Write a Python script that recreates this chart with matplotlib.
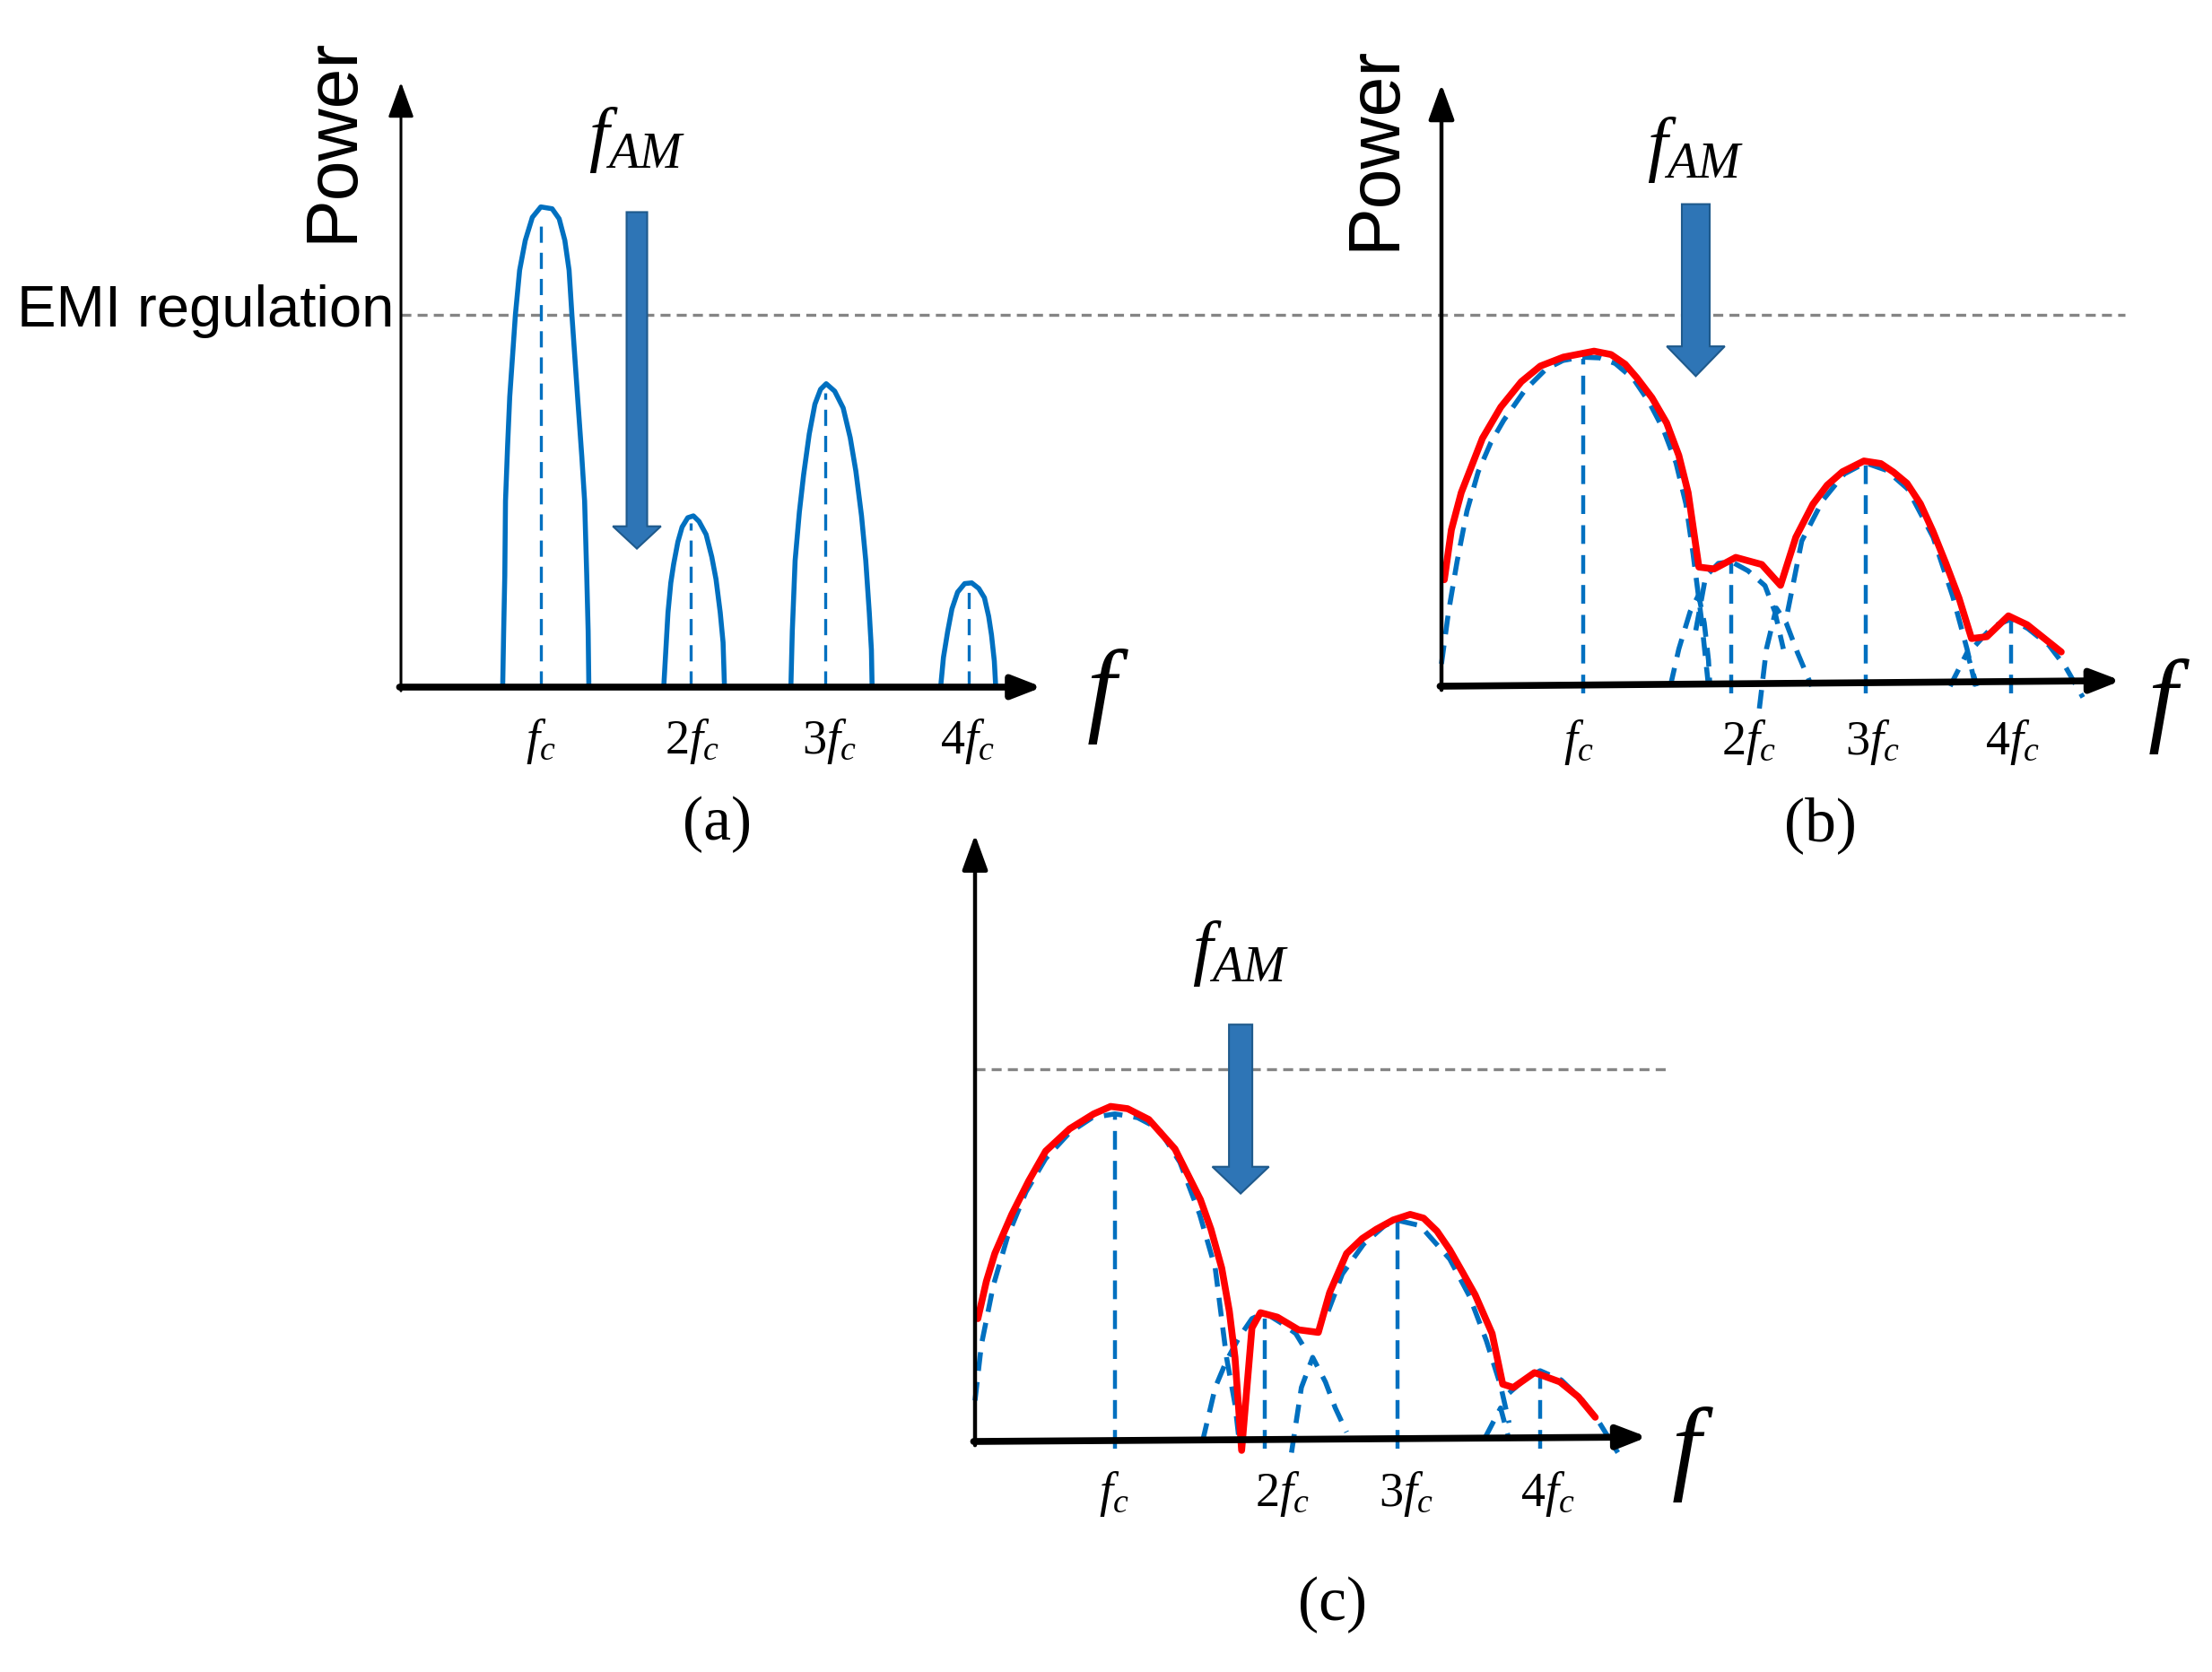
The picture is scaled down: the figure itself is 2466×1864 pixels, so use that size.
import matplotlib
matplotlib.use("Agg")
import matplotlib.pyplot as plt
from matplotlib.patches import FancyArrow

# ---- data (x in units of fc, y in units of the EMI limit) ----
HARM_LABELS = [r"$f_c$", r"$2f_c$", r"$3f_c$", r"$4f_c$"]

# (a) unmodulated spectrum, one lobe per harmonic
A_LOBE1_X = [0.72, 0.727, 0.735, 0.74, 0.755, 0.77, 0.81, 0.84, 0.88, 0.93, 0.99, 1.07, 1.12,
             1.16, 1.19, 1.21, 1.25, 1.28, 1.30, 1.315, 1.325, 1.33]
A_LOBE1_Y = [0.0, 0.15, 0.30, 0.50, 0.65, 0.78, 1.0, 1.12, 1.20, 1.262, 1.29, 1.285, 1.258,
             1.20, 1.12, 1.0, 0.78, 0.62, 0.50, 0.30, 0.15, 0.0]
A_LOBE2_X = [1.86, 1.875, 1.89, 1.91, 1.93, 1.96, 1.99, 2.03, 2.07, 2.11, 2.16, 2.20, 2.23,
             2.26, 2.28, 2.29]
A_LOBE2_Y = [0.0, 0.10, 0.20, 0.28, 0.33, 0.39, 0.43, 0.455, 0.46, 0.445, 0.41, 0.35, 0.29,
             0.20, 0.12, 0.0]
A_LOBE3_X = [2.76, 2.77, 2.79, 2.82, 2.85, 2.89, 2.93, 2.97, 3.01, 3.07, 3.13, 3.18, 3.22,
             3.26, 3.29, 3.315, 3.33, 3.335]
A_LOBE3_Y = [0.0, 0.15, 0.34, 0.47, 0.57, 0.68, 0.76, 0.80, 0.815, 0.795, 0.75, 0.67, 0.58,
             0.46, 0.34, 0.20, 0.10, 0.0]
A_LOBE4_X = [3.82, 3.84, 3.87, 3.90, 3.94, 3.99, 4.04, 4.09, 4.13, 4.16, 4.18, 4.20, 4.21]
A_LOBE4_Y = [0.0, 0.08, 0.15, 0.21, 0.255, 0.278, 0.28, 0.265, 0.24, 0.19, 0.14, 0.07, 0.0]
A_CENTER_X = [0.99, 2.05, 3.00, 4.02]
A_CENTER_TOP = [1.26, 0.44, 0.79, 0.26]

# (b) AM spread spectrum
B_RED_X = [0.02, 0.07, 0.14, 0.29, 0.42, 0.565, 0.70, 0.863, 1.08, 1.20, 1.30, 1.384, 1.49,
           1.594, 1.68, 1.746, 1.822, 1.93, 2.083, 2.267, 2.40, 2.508, 2.629, 2.73, 2.838,
           2.99, 3.11, 3.20, 3.295, 3.39, 3.479, 3.57, 3.663, 3.752, 3.86, 4.013, 4.146, 4.387]
B_RED_Y = [0.286, 0.42, 0.52, 0.666, 0.75, 0.818, 0.86, 0.884, 0.90, 0.891, 0.865, 0.828, 0.775,
           0.707, 0.62, 0.52, 0.32, 0.315, 0.346, 0.327, 0.271, 0.40, 0.489, 0.54, 0.576,
           0.605, 0.598, 0.575, 0.545, 0.49, 0.416, 0.33, 0.237, 0.128, 0.133, 0.189, 0.165, 0.092]
B_DASH1_X = [0.0, 0.05, 0.11, 0.18, 0.26, 0.35, 0.44, 0.59, 0.74, 0.86, 0.99, 1.12, 1.23,
             1.36, 1.47, 1.57, 1.66, 1.73, 1.78, 1.84, 1.89]
B_DASH1_Y = [0.06, 0.20, 0.334, 0.47, 0.576, 0.655, 0.714, 0.795, 0.852, 0.875, 0.884, 0.882,
             0.867, 0.825, 0.763, 0.69, 0.60, 0.49, 0.358, 0.18, 0.0]
B_DASH2_X = [1.62, 1.68, 1.76, 1.82, 1.86, 1.89, 1.90]
B_DASH2_Y = [0.0, 0.10, 0.20, 0.245, 0.17, 0.07, 0.0]
B_DASH3_X = [1.80, 1.87, 1.96, 2.05, 2.17, 2.29, 2.36, 2.42]
B_DASH3_Y = [0.15, 0.295, 0.33, 0.335, 0.31, 0.27, 0.20, 0.10]
B_DASH4_X = [2.25, 2.30, 2.37, 2.44, 2.52, 2.62]
B_DASH4_Y = [-0.06, 0.10, 0.21, 0.17, 0.09, 0.0]
B_DASH5_X = [2.45, 2.55, 2.70, 2.85, 3.00, 3.15, 3.30, 3.48, 3.62, 3.72, 3.78]
B_DASH5_Y = [0.20, 0.39, 0.50, 0.57, 0.60, 0.58, 0.53, 0.40, 0.24, 0.10, 0.0]
B_DASH6_X = [3.60, 3.72, 3.79]
B_DASH6_Y = [0.0, 0.09, 0.0]
B_DASH7_X = [3.78, 3.90, 4.03, 4.15, 4.30, 4.42, 4.54]
B_DASH7_Y = [0.11, 0.16, 0.18, 0.155, 0.11, 0.05, -0.03]
B_CENTER_X = [1.00, 2.05, 3.00, 4.03]
B_CENTER_TOP = [0.88, 0.33, 0.60, 0.18]

# (c) AM spread spectrum with deeper notch
C_RED_X = [0.02, 0.08, 0.14, 0.26, 0.38, 0.50, 0.67, 0.84, 0.96, 1.08, 1.23, 1.415, 1.595,
           1.67, 1.746, 1.80, 1.84, 1.887, 1.96, 2.02, 2.14, 2.29, 2.43, 2.51, 2.63, 2.74,
           2.84, 2.96, 3.08, 3.175, 3.27, 3.36, 3.45, 3.54, 3.66, 3.735, 3.81, 3.96, 4.14,
           4.27, 4.39]
C_RED_Y = [0.33, 0.43, 0.505, 0.61, 0.70, 0.78, 0.84, 0.88, 0.90, 0.894, 0.865, 0.786, 0.65,
           0.57, 0.466, 0.35, 0.226, -0.024, 0.305, 0.346, 0.334, 0.30, 0.293, 0.40, 0.505, 0.545,
           0.57, 0.595, 0.61, 0.60, 0.565, 0.515, 0.455, 0.394, 0.29, 0.154, 0.145, 0.185, 0.16,
           0.12, 0.065]
C_DASH1_X = [0.0, 0.045, 0.13, 0.23, 0.36, 0.50, 0.67, 0.83, 0.99, 1.15, 1.30, 1.45, 1.59,
             1.70, 1.78, 1.84, 1.87]
C_DASH1_Y = [0.11, 0.26, 0.42, 0.55, 0.67, 0.76, 0.83, 0.87, 0.88, 0.87, 0.84, 0.75, 0.61,
             0.466, 0.226, 0.10, 0.0]
C_DASH2_X = [1.61, 1.66, 1.70, 1.78, 1.87, 1.96, 2.05, 2.16, 2.27, 2.35]
C_DASH2_Y = [0.0, 0.08, 0.145, 0.217, 0.28, 0.33, 0.346, 0.32, 0.29, 0.24]
C_DASH3_X = [2.24, 2.31, 2.39, 2.48, 2.55, 2.63]
C_DASH3_Y = [-0.03, 0.145, 0.226, 0.16, 0.09, 0.025]
C_DASH4_X = [2.50, 2.60, 2.75, 2.90, 2.99, 3.15, 3.36, 3.50, 3.62, 3.72, 3.78]
C_DASH4_Y = [0.35, 0.45, 0.53, 0.58, 0.594, 0.58, 0.49, 0.39, 0.27, 0.15, 0.05]
C_DASH5_X = [3.61, 3.72, 3.78]
C_DASH5_Y = [0.01, 0.09, 0.005]
C_DASH6_X = [3.78, 3.90, 4.00, 4.15, 4.30, 4.42, 4.55]
C_DASH6_Y = [0.13, 0.17, 0.19, 0.165, 0.11, 0.05, -0.03]
C_CENTER_X = [0.99, 2.05, 2.99, 4.00]
C_CENTER_TOP = [0.88, 0.33, 0.59, 0.17]

EMI_LEVEL = 1.0

# ---- style ----
plt.rcParams["mathtext.fontset"] = "custom"
plt.rcParams["mathtext.rm"] = "Liberation Serif"
plt.rcParams["mathtext.it"] = "Liberation Serif:italic"
plt.rcParams["lines.scale_dashes"] = False

BLUE = "#0070C0"
RED = "#FF0000"
ARROW_FILL = "#2E75B6"
ARROW_EDGE = "#1F5A8C"
GREY = "#858585"

W, H = 2466, 1864
XS, YS = 157.5, 415.0
XLIM = (-0.7, 5.4)
YLIM = (-0.55, 1.75)


def panel_axes(fig, ox, oy):
    # place an axes so that data (0, 0) lands on pixel (ox, oy)
    left = (ox + XLIM[0] * XS) / W
    bottom = (H - oy + YLIM[0] * YS) / H
    ax = fig.add_axes([left, bottom, (XLIM[1] - XLIM[0]) * XS / W, (YLIM[1] - YLIM[0]) * YS / H])
    ax.set_xlim(*XLIM)
    ax.set_ylim(*YLIM)
    ax.axis("off")
    return ax


def draw_frame(ax, xtip, ytip, x_end_y, ylw, xlw):
    ax.annotate("", xy=(0, ytip), xytext=(0, -0.01),
                arrowprops=dict(arrowstyle="-|>,head_length=1.1,head_width=0.4", mutation_scale=22,
                                lw=ylw, color="black", shrinkA=0, shrinkB=0), zorder=6)
    ax.annotate("", xy=(xtip, x_end_y), xytext=(-0.01, 0),
                arrowprops=dict(arrowstyle="-|>,head_length=0.9,head_width=0.35", mutation_scale=22,
                                lw=xlw, color="black", shrinkA=0, shrinkB=0), zorder=6)


def draw_fam(ax, x, top, tip, width, head_w, head_l, text_y):
    ax.add_patch(FancyArrow(x, top, 0, tip - top, width=width, head_width=head_w,
                            head_length=head_l, length_includes_head=True,
                            facecolor=ARROW_FILL, edgecolor=ARROW_EDGE, lw=1.5, zorder=7))
    ax.text(x, text_y, r"$f_{AM}$", fontsize=58, ha="center", va="center", zorder=8)


def dashed(ax, xs, ys, lw=4.0, dash=(15, 9)):
    ax.plot(xs, ys, color=BLUE, lw=lw, dashes=dash, zorder=3, clip_on=False)


def labels(ax, xs, y, fx, fy, tag, tag_xy):
    for x, lab in zip(xs, HARM_LABELS):
        ax.text(x, y, lab, fontsize=39, ha="center", va="center")
    ax.text(fx, fy, r"$f$", fontsize=84, ha="center", va="center")
    ax.text(tag_xy[0], tag_xy[1], tag, fontsize=50, family="Liberation Serif",
            ha="center", va="center")


fig = plt.figure(figsize=(W / 100, H / 100), dpi=100)

# ---------------- (a) ----------------
ax = panel_axes(fig, 447, 766)
ax.plot([0, 12.2], [EMI_LEVEL, EMI_LEVEL], color=GREY, lw=2.4, dashes=(8, 5), clip_on=False, zorder=1)
for lx, ly in [(A_LOBE1_X, A_LOBE1_Y), (A_LOBE2_X, A_LOBE2_Y),
               (A_LOBE3_X, A_LOBE3_Y), (A_LOBE4_X, A_LOBE4_Y)]:
    ax.plot(lx, ly, color=BLUE, lw=4, zorder=3, solid_joinstyle="round")
for cx, top in zip(A_CENTER_X, A_CENTER_TOP):
    ax.plot([cx, cx], [0, top], color=BLUE, lw=2.4, dashes=(13, 8), zorder=3)
draw_frame(ax, 4.54, 1.625, 0, 2.2, 5.5)
draw_fam(ax, 1.67, 1.276, 0.372, 0.146, 0.34, 0.06, 1.47)
ax.text(-0.48, 1.47, "Power", rotation=90, fontsize=58, family="Liberation Sans",
        ha="center", va="center")
ax.text(-0.05, EMI_LEVEL + 0.01, "EMI regulation", fontsize=47, family="Liberation Sans",
        ha="right", va="center")
labels(ax, [0.99, 2.06, 3.03, 4.01], -0.145, 5.0, -0.02, "(a)", (2.24, -0.37))

# ---------------- (b) ----------------
ax = panel_axes(fig, 1607, 765)
for lx, ly in [(B_DASH1_X, B_DASH1_Y), (B_DASH2_X, B_DASH2_Y), (B_DASH3_X, B_DASH3_Y),
               (B_DASH4_X, B_DASH4_Y), (B_DASH5_X, B_DASH5_Y), (B_DASH6_X, B_DASH6_Y),
               (B_DASH7_X, B_DASH7_Y)]:
    dashed(ax, lx, ly)
for cx, top in zip(B_CENTER_X, B_CENTER_TOP):
    dashed(ax, [cx, cx], [-0.02, top], lw=3.2)
ax.plot(B_RED_X, B_RED_Y, color=RED, lw=5.5, zorder=5, solid_joinstyle="round", solid_capstyle="round")
draw_frame(ax, 4.81, 1.617, 0.015, 3.2, 5.5)
draw_fam(ax, 1.80, 1.295, 0.833, 0.197, 0.41, 0.08, 1.44)
ax.text(-0.47, 1.445, "Power", rotation=90, fontsize=58, family="Liberation Sans",
        ha="center", va="center")
labels(ax, [0.97, 2.17, 3.05, 4.04], -0.15, 5.15, -0.05, "(b)", (2.68, -0.375))

# ---------------- (c) ----------------
ax = panel_axes(fig, 1087, 1607)
ax.plot([0, 4.91], [EMI_LEVEL, EMI_LEVEL], color=GREY, lw=2.4, dashes=(8, 5), zorder=1)
for lx, ly in [(C_DASH1_X, C_DASH1_Y), (C_DASH2_X, C_DASH2_Y), (C_DASH3_X, C_DASH3_Y),
               (C_DASH4_X, C_DASH4_Y), (C_DASH5_X, C_DASH5_Y), (C_DASH6_X, C_DASH6_Y)]:
    dashed(ax, lx, ly)
for cx, top in zip(C_CENTER_X, C_CENTER_TOP):
    dashed(ax, [cx, cx], [-0.02, top], lw=3.2)
ax.plot(C_RED_X, C_RED_Y, color=RED, lw=5.5, zorder=5, solid_joinstyle="round", solid_capstyle="round")
draw_frame(ax, 4.76, 1.63, 0.012, 3.2, 5.5)
draw_fam(ax, 1.88, 1.12, 0.666, 0.165, 0.40, 0.072, 1.31)
labels(ax, [0.98, 2.17, 3.05, 4.05], -0.14, 5.08, -0.03, "(c)", (2.53, -0.44))

fig.savefig("out.png", dpi=100, facecolor="white")
